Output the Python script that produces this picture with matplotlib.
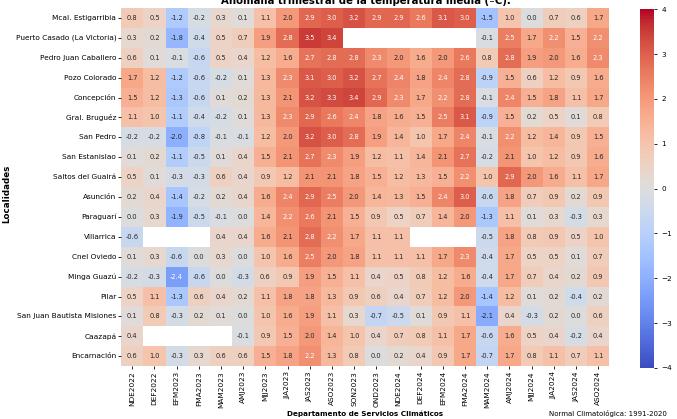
import numpy as np
import pandas as pd
import matplotlib
matplotlib.use("Agg")
import matplotlib.pyplot as plt
import seaborn as sns

nan = np.nan

trimestres = ["NDE2022", "DEF2022", "EFM2023", "FMA2023", "MAM2023", "AMJ2023",
              "MJJ2023", "JJA2023", "JAS2023", "ASO2023", "SON2023", "OND2023",
              "NDE2024", "DEF2024", "EFM2024", "FMA2024", "MAM2024", "AMJ2024",
              "MJJ2024", "JJA2024", "JAS2024", "ASO2024"]

localidades = ["Mcal. Estigarribia", "Puerto Casado (La Victoria)", "Pedro Juan Caballero",
               "Pozo Colorado", "Concepción", "Gral. Bruguéz", "San Pedro", "San Estanislao",
               "Saltos del Guairá", "Asunción", "Paraguarí", "Villarrica", "Cnel Oviedo",
               "Minga Guazú", "Pilar", "San Juan Bautista Misiones", "Caazapá", "Encarnación"]

# anomalias por localidad (mismo orden que trimestres)
mcal = [0.8, 0.5, -1.2, -0.2, 0.3, 0.1, 1.1, 2.0, 2.9, 3.0, 3.2, 2.9, 2.9, 2.6, 3.1, 3.0, -1.5, 1.0, 0.0, 0.7, 0.6, 1.7]
pcasado = [0.3, 0.2, -1.8, -0.4, 0.5, 0.7, 1.9, 2.8, 3.5, 3.4, nan, nan, nan, nan, nan, nan, -0.1, 2.5, 1.7, 2.2, 1.5, 2.2]
pjc = [0.6, 0.1, -0.1, -0.6, 0.5, 0.4, 1.2, 1.6, 2.7, 2.8, 2.8, 2.3, 2.0, 1.6, 2.0, 2.6, 0.8, 2.8, 1.9, 2.0, 1.6, 2.3]
pozo = [1.7, 1.2, -1.2, -0.6, -0.2, 0.1, 1.3, 2.3, 3.1, 3.0, 3.2, 2.7, 2.4, 1.8, 2.4, 2.8, -0.9, 1.5, 0.6, 1.2, 0.9, 1.6]
concep = [1.5, 1.2, -1.3, -0.6, 0.1, 0.2, 1.3, 2.1, 3.2, 3.3, 3.4, 2.9, 2.3, 1.7, 2.2, 2.8, -0.1, 2.4, 1.5, 1.8, 1.1, 1.7]
bruguez = [1.1, 1.0, -1.1, -0.4, -0.2, 0.1, 1.3, 2.3, 2.9, 2.6, 2.4, 1.8, 1.6, 1.5, 2.5, 3.1, -0.9, 1.5, 0.2, 0.5, 0.1, 0.8]
spedro = [-0.2, -0.2, -2.0, -0.8, -0.1, -0.1, 1.2, 2.0, 3.2, 3.0, 2.8, 1.9, 1.4, 1.0, 1.7, 2.4, -0.1, 2.2, 1.2, 1.4, 0.9, 1.5]
sestan = [0.1, 0.2, -1.1, -0.5, 0.1, 0.4, 1.5, 2.1, 2.7, 2.3, 1.9, 1.2, 1.1, 1.4, 2.1, 2.7, -0.2, 2.1, 1.0, 1.2, 0.9, 1.6]
saltos = [0.5, 0.1, -0.3, -0.3, 0.6, 0.4, 0.9, 1.2, 2.1, 2.1, 1.8, 1.5, 1.2, 1.3, 1.5, 2.2, 1.0, 2.9, 2.0, 1.6, 1.1, 1.7]
asuncion = [0.2, 0.4, -1.4, -0.2, 0.2, 0.4, 1.6, 2.4, 2.9, 2.5, 2.0, 1.4, 1.3, 1.5, 2.4, 3.0, -0.6, 1.8, 0.7, 0.9, 0.2, 0.9]
paraguari = [0.0, 0.3, -1.9, -0.5, -0.1, 0.0, 1.4, 2.2, 2.6, 2.1, 1.5, 0.9, 0.5, 0.7, 1.4, 2.0, -1.3, 1.1, 0.1, 0.3, -0.3, 0.3]
villarrica = [-0.6, nan, nan, nan, 0.4, 0.4, 1.6, 2.1, 2.8, 2.2, 1.7, 1.1, 1.1, nan, nan, nan, -0.5, 1.8, 0.8, 0.9, 0.5, 1.0]
oviedo = [0.1, 0.3, -0.6, 0.0, 0.3, 0.0, 1.0, 1.6, 2.5, 2.0, 1.8, 1.1, 1.1, 1.1, 1.7, 2.3, -0.4, 1.7, 0.5, 0.5, 0.1, 0.7]
minga = [-0.2, -0.3, -2.4, -0.6, 0.0, -0.3, 0.6, 0.9, 1.9, 1.5, 1.1, 0.4, 0.5, 0.8, 1.2, 1.6, -0.4, 1.7, 0.7, 0.4, 0.2, 0.9]
pilar = [0.5, 1.1, -1.3, 0.6, 0.4, 0.2, 1.1, 1.8, 1.8, 1.3, 0.9, 0.6, 0.4, 0.7, 1.2, 2.0, -1.4, 1.2, 0.1, 0.2, -0.4, 0.2]
sjb = [0.1, 0.8, -0.3, 0.2, 0.1, 0.0, 1.0, 1.6, 1.9, 1.1, 0.3, -0.7, -0.5, 0.1, 0.9, 1.1, -2.1, 0.4, -0.3, 0.2, 0.0, 0.6]
caazapa = [0.4, nan, nan, nan, nan, -0.1, 0.9, 1.5, 2.0, 1.4, 1.0, 0.4, 0.7, 0.8, 1.1, 1.7, -0.6, 1.6, 0.5, 0.4, -0.2, 0.4]
encarnacion = [0.6, 1.0, -0.3, 0.3, 0.6, 0.6, 1.5, 1.8, 2.2, 1.3, 0.8, 0.0, 0.2, 0.4, 0.9, 1.7, -0.7, 1.7, 0.8, 1.1, 0.7, 1.1]

filas = [mcal, pcasado, pjc, pozo, concep, bruguez, spedro, sestan, saltos, asuncion,
         paraguari, villarrica, oviedo, minga, pilar, sjb, caazapa, encarnacion]
df = pd.DataFrame(filas, index=localidades, columns=trimestres)

fig = plt.figure(figsize=(6.77, 4.19), dpi=100)
ax = fig.add_axes([0.179, 0.126, 0.721, 0.855])
cax = fig.add_axes([0.945, 0.122, 0.021, 0.856])

sns.heatmap(df, ax=ax, cbar_ax=cax, cmap="coolwarm", vmin=-4, vmax=4,
            annot=True, fmt=".1f", annot_kws={"size": 4.8})

ax.tick_params(axis="both", labelsize=5.3, length=2, width=0.6, pad=1.5)
ax.set_xticklabels(trimestres, rotation=90)
ax.set_yticklabels(localidades, rotation=0)
ax.set_xlabel("Departamento de Servicios Climáticos", fontsize=5.2, fontweight="bold")
ax.xaxis.set_label_coords(0.5, -0.124)
ax.set_ylabel("Localidades", fontsize=6.3, fontweight="bold")
ax.yaxis.set_label_coords(-0.225, 0.48)

cax.tick_params(labelsize=5.2, length=2, width=0.6)
cax.set_yticks(range(-4, 5))

fig.text(0.541, 0.998, "Anomalía trimestral de la temperatura media (ºC).",
         ha="center", va="center", fontsize=7.3, fontweight="bold")
fig.text(0.985, 0.013, "Normal Climatológica: 1991-2020", ha="right", va="center", fontsize=5)

fig.savefig("out.png", dpi=100)
